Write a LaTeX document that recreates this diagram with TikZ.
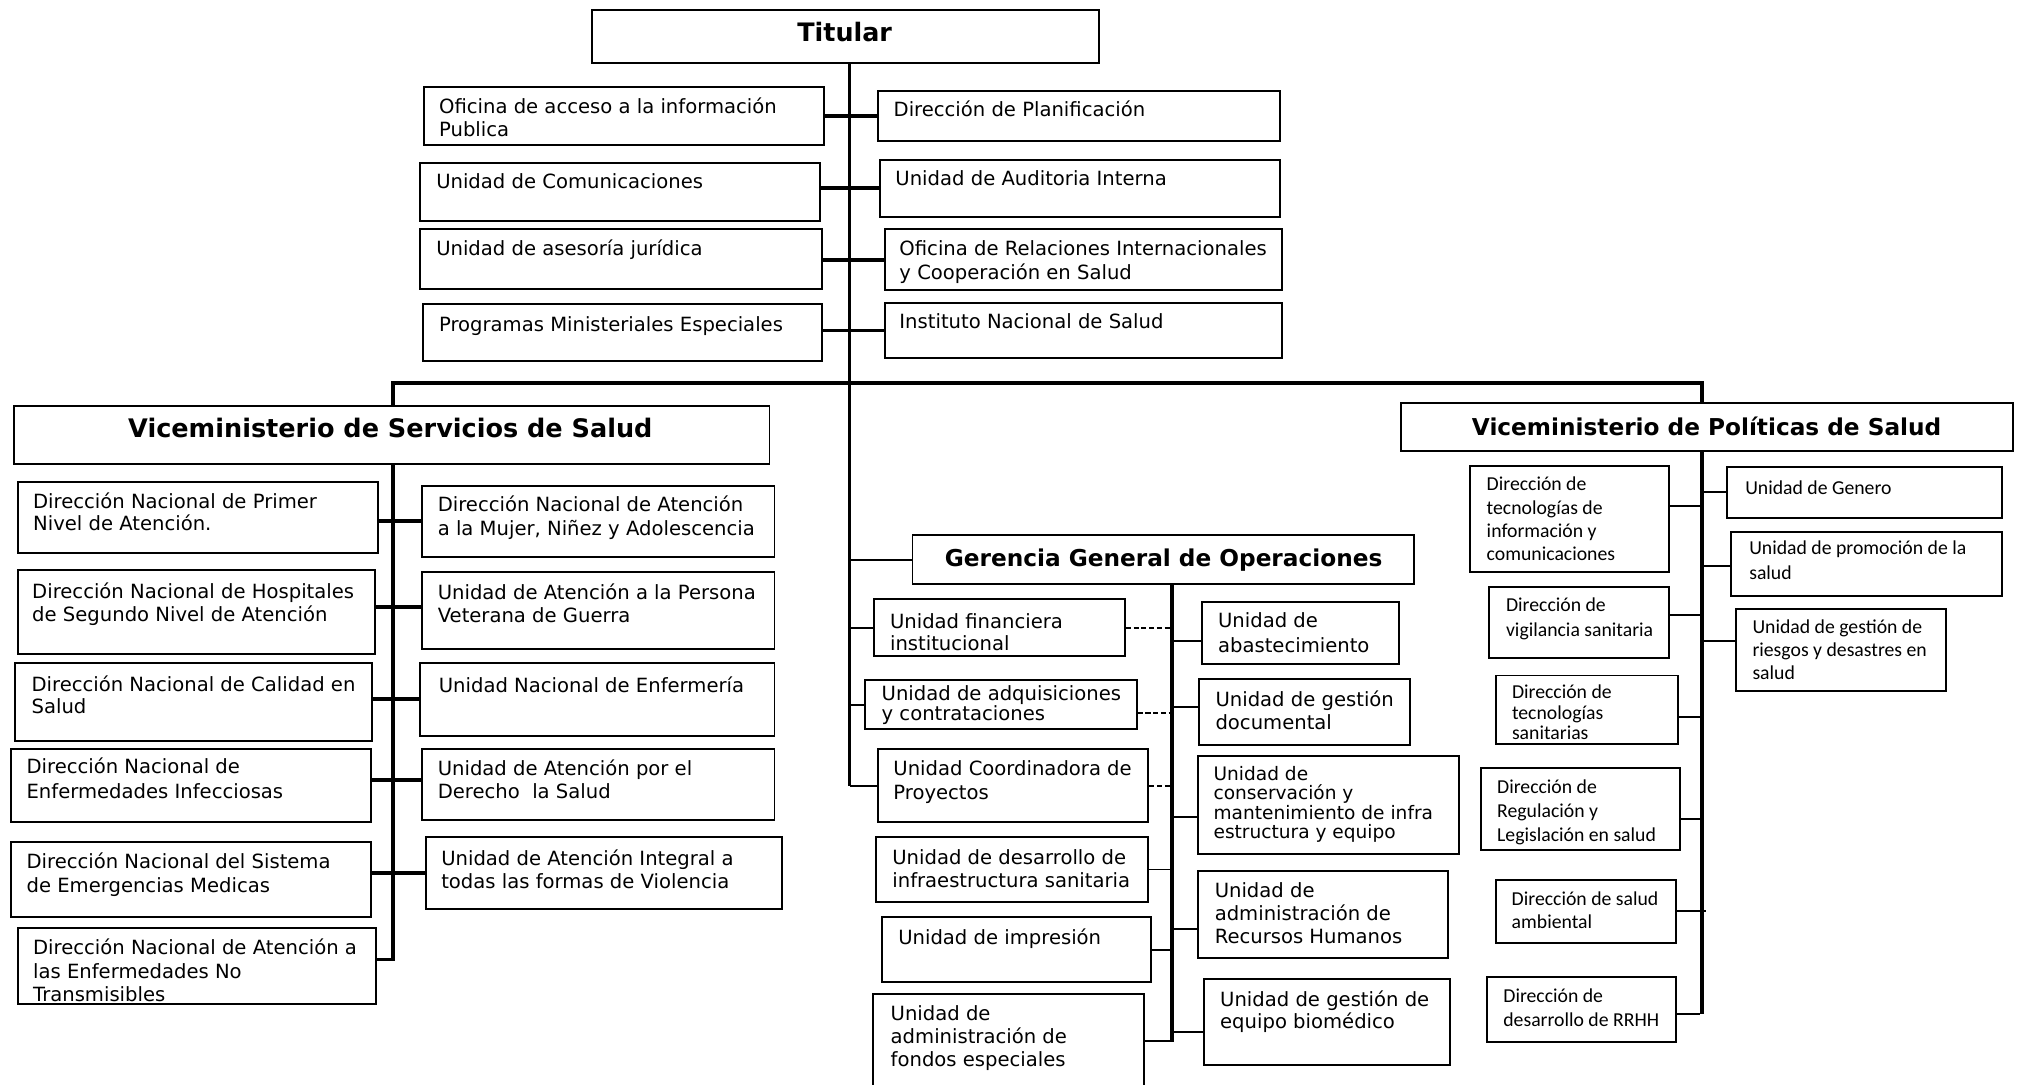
\documentclass[tikz,border=0pt]{standalone}
\usepackage{fontspec}
\setmainfont{DejaVu Sans}
\newfontfamily\calib{Carlito}
\usetikzlibrary{fit,calc}
\tikzset{
  box/.style={draw, line width=1.5pt, inner sep=0pt},
  txt/.style={inner sep=0pt, outer sep=0pt, anchor=north west, align=left, font=\fontsize{15.2pt}{17.6pt}\selectfont},
  fs/.style 2 args={font=\fontsize{#1pt}{#2pt}\selectfont},
  cf/.style 2 args={font=\calib\fontsize{#1pt}{#2pt}\selectfont},
  ttl/.style={inner sep=0pt, anchor=base, font=\bfseries\fontsize{#1pt}{#1pt}\selectfont},
  bar/.style={line width=3pt},
  hbar/.style={line width=3.5pt, line join=miter},
  spine/.style={line width=3pt},
  sspine/.style={line width=3.7pt},
  thinl/.style={line width=1.5pt},
  dsh/.style={line width=1.5pt, dash pattern=on 4pt off 2pt},
}
% name, x1, y1, x2, y2, text x, first baseline, text style, text
\newcommand\ob[9]{%
  \node[box, fit={(#2,#3) (#4,#5)}] (#1) {};
  \node[txt, #8] (#1-t) at (#6,{#7-14}) {\rule{0pt}{14pt}#9};
}
\begin{document}
\begin{tikzpicture}[x=1pt,y=-1pt]
\fill[white] (0,0) rectangle (1568,841);
\useasboundingbox (0,0) rectangle (1568,841);
\clip (0,0) rectangle (1568,841);

% ---------- Titular and staff units
\node[box, fit={(459,7.5) (852,49)}] (tit) {};
\node[ttl=19.7] (tit-t) at (655,32.3) {Titular};

\ob{tl1}{329}{67.7}{638.8}{112.7}{340.5}{87.9}{fs={15.2}{18.1}}{Oficina de acceso a la información\\Publica}
\ob{tl2}{325.8}{126.2}{635.6}{171.1}{338.3}{146}{}{Unidad de Comunicaciones}
\ob{tl3}{325.8}{177.8}{637.4}{224.4}{338.3}{198.5}{}{Unidad de asesoría jurídica}
\ob{tl4}{328}{236}{637.4}{279.7}{340.5}{257.2}{}{Programas Ministeriales Especiales}
\ob{tr1}{681}{70.3}{992.6}{109.1}{693}{90.5}{}{Dirección de Planificación}
\ob{tr2}{682.4}{124.1}{992.6}{168}{694.4}{144}{}{Unidad de Auditoria Interna}
\ob{tr3}{686.3}{177.8}{994}{224.9}{697.5}{198.5}{fs={15.2}{18.1}}{Oficina de Relaciones Internacionales\\y Cooperación en Salud}
\ob{tr4}{686.3}{234.7}{994}{277.9}{697.5}{254.6}{}{Instituto Nacional de Salud}

% ---------- Viceministerio de Servicios de Salud
\node[box, fit={(10.7,314.6) (596.7,359.8)}] (vs) {};
\node[ttl=19.8] (vs-t) at (302.7,339.2) {Viceministerio de Servicios de Salud};

\ob{sl1}{13.9}{373.5}{292.8}{428.6}{25.7}{394.5}{fs={15.2}{17.2}}{Dirección Nacional de Primer\\Nivel de Atención.}
\ob{sl2}{13.9}{442}{290.8}{507.4}{25}{464}{fs={15.2}{17.8}}{Dirección Nacional de Hospitales\\de Segundo Nivel de Atención}
\ob{sl3}{11.9}{513.9}{288.8}{574.4}{24.5}{535.9}{fs={15.2}{17.3}}{Dirección Nacional de Calidad en\\Salud}
\ob{sl4}{8.7}{580.8}{287.6}{637.7}{20.6}{600.2}{fs={15.2}{18.9}}{Dirección Nacional de\\Enfermedades Infecciosas}
\ob{sl5}{8.7}{652.7}{287.6}{711.4}{20.6}{673.4}{fs={15.2}{18.6}}{Dirección Nacional del Sistema\\de Emergencias Medicas}
\ob{sl6}{13.9}{719.4}{291.6}{778.6}{25.7}{740.1}{fs={15.2}{18.4}}{Dirección Nacional de Atención a\\las Enfermedades No\\Transmisibles}
\ob{sr1}{327.2}{376.6}{600.6}{431.7}{339.5}{396.8}{fs={15.2}{18.1}}{Dirección Nacional de Atención\\a la Mujer, Niñez y Adolescencia}
\ob{sr2}{327.2}{443.3}{600.6}{503.5}{339.5}{464.8}{fs={15.2}{18.1}}{Unidad de Atención a la Persona\\Veterana de Guerra}
\ob{sr3}{325.6}{513.9}{600.6}{570.5}{340.3}{536.9}{}{Unidad Nacional de Enfermería}
\ob{sr4}{327.2}{580.8}{600.6}{635.9}{339.5}{601.5}{fs={15.2}{17.6}}{Unidad de Atención por el\\Derecho\ \ la Salud}
\ob{sr5}{330.4}{649.3}{606.1}{704.9}{342.2}{670.8}{fs={15.2}{18.1}}{Unidad de Atención Integral a\\todas las formas de Violencia}

% ---------- Gerencia General de Operaciones
\node[box, fit={(707.6,414.9) (1096.3,453.1)}] (gg) {};
\node[ttl=18] (gg-t) at (902.3,439.3) {Gerencia General de Operaciones};

\ob{gl1}{677.6}{464.8}{872.3}{508.5}{690.2}{487.3}{fs={15.2}{17.5}}{Unidad financiera\\institucional}
\ob{gl2}{670.8}{527.3}{881.5}{565.6}{683.7}{542.9}{fs={15.2}{12.1}}{Unidad de adquisiciones\\y contrataciones}
\ob{gl3}{680.6}{581.1}{890.5}{637.7}{692.8}{601.3}{fs={15.2}{18.6}}{Unidad Coordinadora de\\Proyectos}
\ob{gl4}{679.1}{649.3}{890.5}{699.2}{692}{670}{fs={15.2}{18.4}}{Unidad de desarrollo de\\infraestructura sanitaria}
\ob{gl5}{683.7}{711.4}{892.4}{761.8}{696.6}{732.3}{}{Unidad de impresión}
\ob{gl6}{677.3}{770.8}{887.2}{860}{690.7}{791}{fs={15.2}{18.2}}{Unidad de\\administración de\\fondos especiales}
\ob{gr1}{932.3}{467}{1084.8}{514.9}{944.6}{486.4}{fs={15.2}{19.4}}{Unidad de\\abastecimiento}
\ob{gr2}{930.1}{526.5}{1093.4}{577.7}{942.6}{547.8}{fs={15.2}{18}}{Unidad de gestión\\documental}
\ob{gr3}{928.7}{586}{1131.5}{662.5}{941.1}{604.9}{fs={14.4}{15.2}}{Unidad de\\conservación y\\mantenimiento de infra\\estructura y equipo}
\ob{gr4}{928.7}{675.3}{1123}{743}{942}{696}{fs={15.2}{18}}{Unidad de\\administración de\\Recursos Humanos}
\ob{gr5}{933.7}{759.1}{1124.5}{825.6}{946.2}{780.5}{fs={15.2}{17.4}}{Unidad de gestión de\\equipo biomédico}

% ---------- Viceministerio de Políticas de Salud
\node[box, fit={(1086.6,312.7) (1561.1,349.4)}] (vp) {};
\node[ttl=18] (vp-t) at (1323.4,337.4) {Viceministerio de Políticas de Salud};

\ob{pl1}{1140}{361.4}{1294.3}{443.8}{1152.9}{380.5}{cf={15.3}{18.1}}{Dirección de\\tecnologías de\\información y\\comunicaciones}
\ob{pl2}{1155}{455.5}{1294.3}{510.5}{1167.9}{474.4}{cf={15.3}{18.8}}{Dirección de\\vigilancia sanitaria}
\ob{pl3}{1159.9}{523.8}{1301.1}{577}{1172.5}{541.6}{cf={15.3}{16}}{Dirección de\\tecnologías\\sanitarias}
\ob{pl4}{1148.5}{595.8}{1302.6}{659.3}{1161}{615.4}{cf={15.3}{18.5}}{Dirección de\\Regulación y\\Legislación en salud}
\ob{pl5}{1159.9}{682.4}{1299.5}{731}{1172.3}{701.8}{cf={15.3}{18.1}}{Dirección de salud\\ambiental}
\ob{pl6}{1152.9}{757.9}{1299.5}{808.3}{1165.8}{777.6}{cf={15.3}{18.6}}{Dirección de\\desarrollo de RRHH}
\ob{pr1}{1339}{361.8}{1552.5}{401.9}{1353.4}{383.1}{cf={15.3}{18.5}}{Unidad de Genero}
\ob{pr2}{1342.6}{412.3}{1552.5}{462}{1356.5}{430.1}{cf={15.3}{18.9}}{Unidad de promoción de la\\salud}
\ob{pr3}{1346.4}{472.3}{1508.8}{535.8}{1359}{491.2}{cf={15.3}{18}}{Unidad de gestión de\\riesgos y desastres en\\salud}

% ---------- connectors
\coordinate (ms) at (658.8,0);
\coordinate (hb) at (0,297);
\coordinate (ss) at (304.7,0);
\coordinate (gs) at (909,0);
\coordinate (ps) at (1320,0);

% main spine and staff bars
\draw[spine] (tit.south -| ms) -- (ms |- gl3.west);
\foreach \i in {1,...,4} {
  \draw[bar] (tl\i.east |- tr\i.west) -- (tr\i.west);
}
% horizontal bar to the viceministerios
\draw[hbar] (vs.north -| ss) -- (ss |- hb) -- (hb -| ps) -- (vp.north -| ps);

% servicios
\draw[sspine, shorten >=-1.5pt] (vs.south -| ss) -- ($(sl6.east -| ss)+(0,-5)$);
\draw[bar] (sr1.west -| sl1.east) -- (sr1.west);
\draw[bar] ($(sr2.west -| sl2.east)+(0,-2.4)$) -- ($(sr2.west)+(0,-2.4)$);
\draw[bar] (sr3.west -| sl3.east) -- (sr3.west);
\draw[bar] ($(sr4.west -| sl4.east)+(0,-3.5)$) -- ($(sr4.west)+(0,-3.5)$);
\draw[bar] (sr5.west -| sl5.east) -- (sr5.west);
\draw[bar] ($(sl6.east)+(0,-5)$) -- ($(sl6.east -| ss)+(0,-5)$);

% gerencia: links from main spine
\draw[thinl] (gg.west -| ms) -- (gg.west);
\draw[thinl] (gl1.west -| ms) -- (gl1.west);
\draw[thinl] (gl2.west -| ms) -- (gl2.west);
\draw[thinl] (gl3.west -| ms) -- (gl3.west);
% gerencia spine
\draw[spine, shorten >=-1pt] (gg.south -| gs) -- ($(gl6.east -| gs)+(0,-8.4)$);
\draw[dsh] (gl1.east) -- (gl1.east -| gs);
\draw[dsh] ($(gl2.east)+(0,6.7)$) -- ($(gl2.east -| gs)+(0,6.7)$);
\draw[dsh] (gl3.east) -- (gl3.east -| gs);
\draw[thinl] (gl4.east) -- (gl4.east -| gs);
\draw[thinl] (gl5.east) -- (gl5.east -| gs);
\draw[thinl] ($(gl6.east)+(0,-8.4)$) -- ($(gl6.east -| gs)+(0,-8.4)$);
\draw[thinl] ($(gr1.west -| gs)+(0,6)$) -- ($(gr1.west)+(0,6)$);
\draw[thinl] ($(gr2.west -| gs)+(0,-4)$) -- ($(gr2.west)+(0,-4)$);
\draw[thinl] ($(gr3.west -| gs)+(0,9)$) -- ($(gr3.west)+(0,9)$);
\draw[thinl] ($(gr4.west -| gs)+(0,11)$) -- ($(gr4.west)+(0,11)$);
\draw[thinl] ($(gr5.west -| gs)+(0,7.6)$) -- ($(gr5.west)+(0,7.6)$);

% politicas
\draw[spine] (vp.south -| ps) -- ($(pl6.east -| ps)+(0,3.2)$);
\draw[thinl] ($(pl1.east)+(0,-10.4)$) -- ($(pl1.east -| ps)+(0,-10.4)$);
\draw[thinl] ($(pl2.east)+(0,-6.3)$) -- ($(pl2.east -| ps)+(0,-6.3)$);
\draw[thinl] ($(pl3.east)+(0,5.3)$) -- ($(pl3.east -| ps)+(0,5.3)$);
\draw[thinl] ($(pl4.east)+(0,7.8)$) -- ($(pl4.east -| ps)+(0,7.8)$);
\draw[thinl] (pl5.east) -- ($(pl5.east -| ps)+(3,0)$);
\draw[thinl] ($(pl6.east)+(0,3.2)$) -- ($(pl6.east -| ps)+(-1.5,3.2)$);
\draw[thinl] (pr1.west -| ps) -- (pr1.west);
\draw[thinl] ($(pr2.west -| ps)+(0,1.8)$) -- ($(pr2.west)+(0,1.8)$);
\draw[thinl] ($(pr3.west -| ps)+(0,-7)$) -- ($(pr3.west)+(0,-7)$);
\end{tikzpicture}
\end{document}
